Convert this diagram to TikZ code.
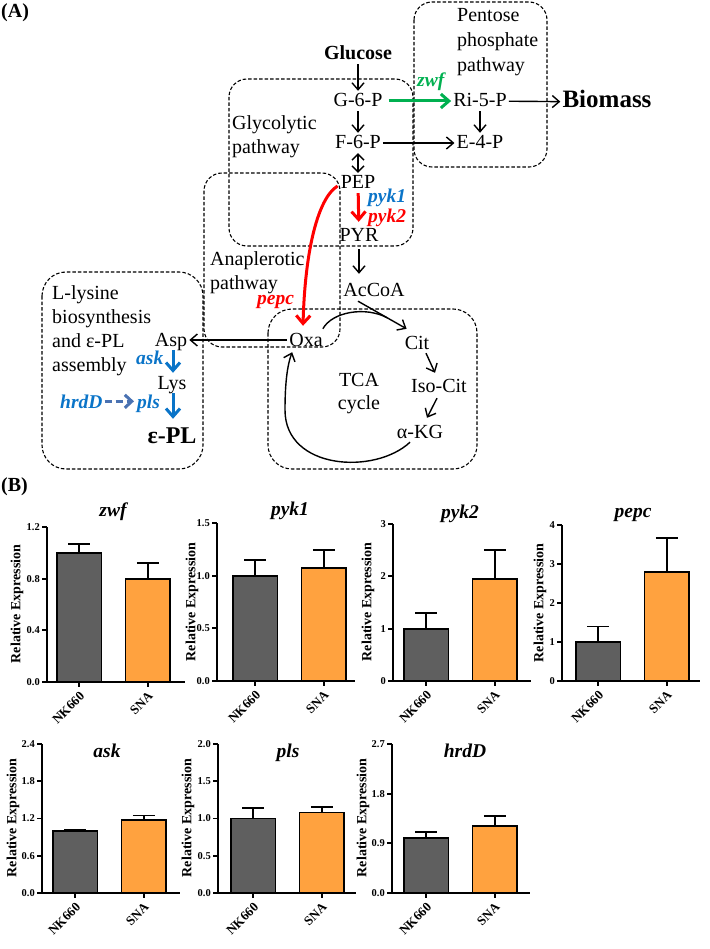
\documentclass[tikz,border=0pt]{standalone}
\usepackage{fontspec}
\setmainfont{Liberation Serif}
\usetikzlibrary{arrows.meta,calc}
\definecolor{zgreen}{HTML}{00B050}
\definecolor{gblue}{HTML}{0A74C8}
\definecolor{gred}{HTML}{FF0000}
\definecolor{dblue}{HTML}{4A72B2}
\definecolor{bargrey}{HTML}{5F5F5F}
\definecolor{barorange}{HTML}{FFA23F}
\newcommand\axh{155}
\newcommand\mychart[9]{%
 \pgfmathsetmacro\ysc{\axh/#3}%
 \pgfmathsetmacro\cA{#5+22.25}%
 \pgfmathsetmacro\cB{#5+90.75}%
 \begin{scope}[shift={(#1,#2)}, y=\ysc pt]
  \draw[barst, fill=bargrey] (#5,0) rectangle (#5+44.5,#6);
  \draw[barst, fill=barorange] (#5+68.5,0) rectangle (#5+113,#8);
  \draw[barst] (\cA,#6) -- (\cA,#7) (\cA-11,#7) -- (\cA+11,#7);
  \draw[barst] (\cB,#8) -- (\cB,#9) (\cB-11,#9) -- (\cB+11,#9);
  \draw[barst] (0,#3) -- (0,0) -- (138,0);
  \foreach \v/\l in {#4} {\draw[barst] (0,\v) -- (-5,\v); \node[ticklbl] at (-7,\v) {\l};}
  \draw[barst] (\cA,0) -- ++(0pt,-5pt) (\cB,0) -- ++(0pt,-5pt);
 \end{scope}
 \node[xlbl] at (#1+\cA+3,#2+12) {NK660};
 \node[xlbl] at (#1+\cB+3,#2+12) {SNA};}
\begin{document}
\begin{tikzpicture}[x=1pt,y=-1pt,
  met/.style={font=\fontsize{20}{24}\selectfont, text height=14pt, text depth=2pt, inner sep=2pt, anchor=base},
  gene/.style={font=\fontsize{19.5}{22}\selectfont\bfseries\itshape, inner sep=0pt, anchor=base west},
  lbl/.style={font=\fontsize{20}{24}\selectfont, align=left, inner sep=0pt, anchor=north west},
  pbox/.style={draw, line width=1.1pt, dash pattern=on 3.5pt off 2pt, rounded corners=18pt},
  blk/.style={line width=1.4pt, -{Straight Barb[length=7pt,width=12pt]}},
  colarr/.style={line width=3pt, -{Straight Barb[length=8pt,width=14pt]}},
  barst/.style={line width=1.8pt},
  ticklbl/.style={font=\fontsize{10.5}{12}\selectfont\bfseries, anchor=east, inner sep=0pt},
  xlbl/.style={font=\fontsize{13}{15}\selectfont\bfseries, rotate=45, anchor=east, inner sep=0pt},
  ylbl/.style={font=\fontsize{14}{16}\selectfont\bfseries, rotate=90, inner sep=0pt},
  ttl/.style={font=\fontsize{19.5}{22}\selectfont\bfseries\itshape, anchor=base, inner sep=0pt},
  panel/.style={font=\fontsize{20}{22}\selectfont\bfseries, anchor=base west, inner sep=0pt},
]
\useasboundingbox (0,0) rectangle (709,949);
% panel labels
\node[panel] (pa) at (1,18) {(A)};
\node[panel] (pb) at (1,491) {(B)};
% pathway boxes
\draw[pbox] (229,79) rectangle (413,246);
\draw[pbox] (414,2) rectangle (547,167);
\draw[pbox] (204,173) rectangle (340,347);
\draw[pbox, rounded corners=24pt] (268,309) rectangle (477,469);
\draw[pbox, rounded corners=24pt] (42,272) rectangle (203,469);
% box labels
\node[lbl] (lglyc) at (232,115) {Glycolytic\\pathway};
\node[lbl, font=\fontsize{20}{25}\selectfont] (lpent) at (457,8) {Pentose\\phosphate\\pathway};
\node[lbl] (lana) at (210,251) {Anaplerotic\\pathway};
\node[lbl] (llys) at (52,285) {L-lysine\\biosynthesis\\and ε-PL\\assembly};
\node[lbl, align=center, anchor=north, font=\fontsize{20}{23}\selectfont] (ltca) at (359,373) {TCA\\cycle};
% metabolites
\node[met, font=\fontsize{20}{24}\selectfont\bfseries] (glc) at (358,60) {Glucose};
\node[met] (g6p) at (358,107) {G-6-P};
\node[met] (f6p) at (358,149) {F-6-P};
\node[met] (pep) at (358,189) {PEP};
\node[met] (pyr) at (359,242) {PYR};
\node[met] (accoa) at (374,296) {AcCoA};
\node[met] (cit) at (417,349) {Cit};
\node[met] (isocit) at (439,392) {Iso-Cit};
\node[met] (akg) at (420,438) {α-KG};
\node[met] (oxa) at (306,346) {Oxa};
\node[met] (asp) at (171,346) {Asp};
\node[met] (lys) at (172,389) {Lys};
\node[met, font=\fontsize{24}{28}\selectfont\bfseries, text height=17pt] (epl) at (172,443) {ε-PL};
\node[met] (ri5p) at (480,107) {Ri-5-P};
\node[met] (e4p) at (480,149) {E-4-P};
\node[met, font=\fontsize{25}{28}\selectfont\bfseries] (bio) at (607,108) {Biomass};
% genes
\node[gene, text=zgreen] (zwf) at (417,87) {zwf};
\node[gene, text=gblue] (pyk1) at (368,203) {pyk1};
\node[gene, text=gred] (pyk2) at (368,223) {pyk2};
\node[gene, text=gred] (pepc) at (257,305) {pepc};
\node[gene, text=gblue] (ask) at (136,364) {ask};
\node[gene, text=gblue] (pls) at (137,408) {pls};
\node[gene, text=gblue] (hrdd) at (60,408) {hrdD};
% black arrows
\draw[blk] (glc) -- (g6p);
\draw[blk] (g6p) -- (f6p);
\draw[line width=1.4pt, {Straight Barb[length=6pt,width=12pt]}-{Straight Barb[length=6pt,width=12pt]}] (f6p) -- (pep);
\draw[blk] (f6p) -- (e4p);
\draw[blk] (ri5p) -- (e4p);
\draw[blk] (ri5p) -- (bio);
\draw[blk, shorten <=3pt, shorten >=6pt] (pyr.south) -- (pyr.south |- accoa.north);
\coordinate (acstart) at ($(accoa.south)+(-16,1)$);
\coordinate (citin) at ($(cit.north west)+(4,-4)$);
\coordinate (merge) at ($(acstart)!0.6!(citin)$);
\draw[blk] (acstart) -- (citin);
\draw[line width=1.4pt] ($(oxa.north east)+(-2,-1)$) .. controls (332,312) and (365,306) .. (merge);
\draw[blk] ($(cit.south)+(9,0)$) -- ($(isocit.north)+(-4,-3)$);
\draw[blk] ($(isocit.south)+(-2,2)$) -- ($(akg.north)+(7,-4)$);
\draw[blk] ($(akg.south)+(-10,0)$) .. controls (375,475) and (285,470) .. (285,410) .. controls (285,385) and (287,366) .. ($(oxa.south west)+(5,2)$);
\draw[blk] (oxa) -- (asp);
% coloured arrows
\draw[colarr, zgreen, shorten <=4pt] (g6p) -- (ri5p);
\draw[colarr, gred, shorten >=4pt] (pep) -- (pyr);
\draw[colarr, gred] ($(pep.west)+(-1,3)$) .. controls (318,198) and (305,250) .. ($(oxa.north)+(-3,-4)$);
\draw[colarr, gblue] ($(asp.south)+(2,0)$) -- ($(lys.north)+(1,0)$);
\draw[colarr, gblue] ($(lys.south)+(1,0)$) -- ($(epl.north)+(1,-5)$);
\draw[line width=3pt, dblue, dash pattern=on 7pt off 4pt, -{Straight Barb[length=7pt,width=13pt]}, shorten <=2pt, shorten >=3pt] (hrdd.east) -- (hrdd.east -| pls.west);
% charts row 1
\renewcommand\axh{155}
\mychart{47}{682}{1.2}{0/0.0,0.4/0.4,0.8/0.8,1.2/1.2}{10}{1.0}{1.07}{0.8}{0.92}
\renewcommand\axh{158}
\mychart{217}{681}{1.5}{0/0.0,0.5/0.5,1/1.0,1.5/1.5}{16}{1.0}{1.15}{1.07}{1.24}
\renewcommand\axh{157}
\mychart{393}{681}{3}{0/0,1/1,2/2,3/3}{11}{1.0}{1.3}{1.95}{2.5}
\renewcommand\axh{156}
\mychart{562}{681}{4}{0/0,1/1,2/2,3/3,4/4}{14}{1.0}{1.4}{2.8}{3.67}
% charts row 2
\renewcommand\axh{149}
\mychart{42}{893}{2.4}{0/0.0,0.6/0.6,1.2/1.2,1.8/1.8,2.4/2.4}{11}{1.0}{1.02}{1.17}{1.25}
\mychart{218}{893}{2}{0/0.0,0.5/0.5,1/1.0,1.5/1.5,2/2.0}{13}{1.0}{1.14}{1.08}{1.15}
\mychart{392}{893}{2.7}{0/0.0,0.9/0.9,1.8/1.8,2.7/2.7}{12}{1.0}{1.1}{1.22}{1.4}
% titles and axis labels
\node[ttl] (t1) at (113,516) {zwf};
\node[ttl] (t2) at (290,515) {pyk1};
\node[ttl] (t3) at (460,518) {pyk2};
\node[ttl] (t4) at (633,517) {pepc};
\node[ttl] (t5) at (107,757) {ask};
\node[ttl] (t6) at (288,757) {pls};
\node[ttl] (t7) at (465,757) {hrdD};
\node[ylbl] (y1) at (17,604) {Relative Expression};
\node[ylbl] (y2) at (192,602) {Relative Expression};
\node[ylbl] (y3) at (368,602) {Relative Expression};
\node[ylbl] (y4) at (540,603) {Relative Expression};
\node[ylbl] (y5) at (13,818) {Relative Expression};
\node[ylbl] (y6) at (188,818) {Relative Expression};
\node[ylbl] (y7) at (363,818) {Relative Expression};
\end{tikzpicture}
\end{document}
